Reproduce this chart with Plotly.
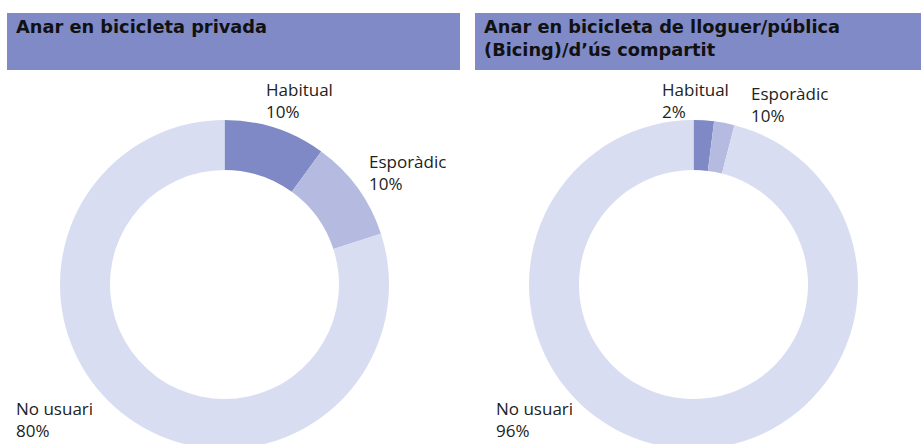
import plotly.graph_objects as go

W, H = 921, 450

# ---- data ----
categories = ["Habitual", "Esporàdic", "No usuari"]
privada_values = [10, 10, 80]
privada_labels = ["10%", "10%", "80%"]
publica_values = [2, 2, 96]
publica_labels = ["2%", "10%", "96%"]
titles = ["Anar en bicicleta privada",
          "Anar en bicicleta de lloguer/pública<br>(Bicing)/d’ús compartit"]

colors = ["#7E89C5", "#B5BBE0", "#D9DDF1"]
header_color = "#7F8AC6"
TITLE_FONT = "DejaVu Sans"
LABEL_FONT = "Open Sans"


def px(x):
    return x / W


def py(y):
    return 1 - y / H


fig = go.Figure()

charts = [
    dict(vals=privada_values, labs=privada_labels, cx=224.5, cy=284.5, r=164.5,
         hx0=7, hx1=460, tx=14,
         lab_pos=[(264, 76), (367, 148), (14, 395)]),
    dict(vals=publica_values, labs=publica_labels, cx=693.5, cy=284.5, r=164.5,
         hx0=475, hx1=921, tx=482,
         lab_pos=[(660, 76), (749, 80), (494, 395)]),
]

shapes = []
annotations = []
for i, c in enumerate(charts):
    fig.add_trace(go.Pie(
        labels=categories, values=c["vals"], sort=False, direction="clockwise",
        rotation=0, hole=0.696, textinfo="none", hoverinfo="label+percent",
        marker=dict(colors=colors, line=dict(width=0)),
        showlegend=False,
        domain=dict(x=[px(c["cx"] - c["r"]), px(c["cx"] + c["r"])],
                    y=[py(c["cy"] + c["r"]), py(c["cy"] - c["r"])]),
    ))
    shapes.append(dict(type="rect", xref="paper", yref="paper",
                       x0=px(c["hx0"]), x1=px(c["hx1"]), y0=py(70), y1=py(13),
                       fillcolor=header_color, line=dict(width=0), layer="below"))
    annotations.append(dict(text="<b>" + titles[i] + "</b>", xref="paper", yref="paper",
                            x=px(c["tx"]), y=py(14), xanchor="left", yanchor="top",
                            align="left", showarrow=False,
                            font=dict(family=TITLE_FONT, size=17.8, color="#111111")))
    for cat, lab, (lx, ly) in zip(categories, c["labs"], c["lab_pos"]):
        annotations.append(dict(text=cat + "<br>" + lab, xref="paper", yref="paper",
                                x=px(lx), y=py(ly), xanchor="left", yanchor="top",
                                align="left", showarrow=False,
                                font=dict(family=LABEL_FONT, size=17, color="#222222")))

fig.update_layout(
    width=W, height=H, autosize=False,
    margin=dict(l=0, r=0, t=0, b=0),
    paper_bgcolor="white", plot_bgcolor="white",
    shapes=shapes, annotations=annotations,
    font=dict(family=LABEL_FONT),
)

fig.write_html("out.html", config={"displayModeBar": False},
               post_script="document.body.style.overflow='hidden';document.body.style.margin='0';")
